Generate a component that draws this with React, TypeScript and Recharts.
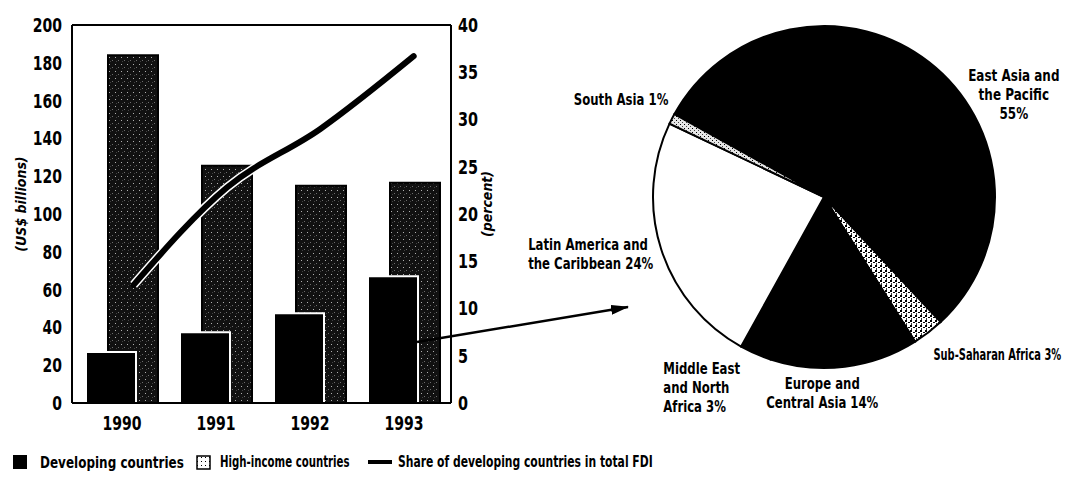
import { ComposedChart, Bar, Line, XAxis, YAxis, ReferenceLine, PieChart, Pie, Cell } from 'recharts';

// FDI flows, US$ billions, and developing-country share of the total (percent)
const years = ['1990', '1991', '1992', '1993'];
const developing = [27, 37.5, 47.5, 67];
const highIncome = [184, 125.5, 115, 116.5];
const sharePct = [12.5, 22.8, 29, 36.7];

// regional split of FDI to developing countries, 1993 (percent)
const regions = [
  'East Asia and the Pacific',
  'Sub-Saharan Africa',
  'Europe and Central Asia',
  'Middle East and North Africa',
  'Latin America and the Caribbean',
  'South Asia',
];
const regionShares = [55, 3, 14, 3, 24, 1];
const regionLabelLines = [
  ['East Asia and', 'the Pacific', ''],
  ['Sub-Saharan Africa'],
  ['Europe and', 'Central Asia'],
  ['Middle East', 'and North', 'Africa'],
  ['Latin America and', 'the Caribbean'],
  ['South Asia'],
];

const leftTicks = [0, 20, 40, 60, 80, 100, 120, 140, 160, 180, 200];
const rightTicks = [0, 5, 10, 15, 20, 25, 30, 35, 40];

const flows = years.map((year, i) => ({
  year,
  slot: i,
  developing: developing[i],
  highIncome: highIncome[i],
  share: sharePct[i],
}));

const regionData = regions.map((name, i) => ({ name, value: regionShares[i] }));

const FONT = "'DejaVu Sans', 'Liberation Sans', sans-serif";
const sliceFills = ['#000', 'url(#ssaSpeckle)', '#000', '#000', '#fff', 'url(#saSpeckle)'];

// where each region label sits, in units of the pie radius from its centre
const labelPlacement = [
  { fx: 1.11, fy: -0.71, anchor: 'middle', squeeze: 0.8 },
  { fx: 0.64, fy: 0.92, anchor: 'start', squeeze: 0.66 },
  { fx: -0.01, fy: 1.09, anchor: 'middle', squeeze: 0.78 },
  { fx: -0.94, fy: 1.0, anchor: 'start', squeeze: 0.78 },
  { fx: -1.73, fy: 0.28, anchor: 'start', squeeze: 0.78 },
  { fx: -0.91, fy: -0.57, anchor: 'end', squeeze: 0.78 },
];

// bold text squeezed horizontally to get the narrow display face
const Squeezed = ({ x, y, squeeze, size, anchor, children }: any) => (
  <g transform={`translate(${x},${y})`}>
    <text
      transform={`scale(${squeeze},1)`}
      x={0}
      y={0}
      textAnchor={anchor}
      dominantBaseline="central"
      fontFamily={FONT}
      fontWeight={700}
      fontSize={size}
      fill="#000"
    >
      {children}
    </text>
  </g>
);

const AxisTick = (props: any) => {
  const { x, y, payload, textAnchor, squeeze, size, shiftY = 0 } = props;
  return (
    <Squeezed x={x} y={y + shiftY} squeeze={squeeze} size={size} anchor={textAnchor}>
      {payload.value}
    </Squeezed>
  );
};

const AxisTitle = (props: any) => {
  const { viewBox, text, shift } = props;
  const x = viewBox.x + shift;
  const y = viewBox.y + viewBox.height / 2 - 10;
  return (
    <g transform={`translate(${x},${y}) rotate(-90)`}>
      <text
        transform="scale(0.9,1)"
        textAnchor="middle"
        dominantBaseline="central"
        fontFamily={FONT}
        fontWeight={700}
        fontStyle="italic"
        fontSize={14}
        fill="#000"
      >
        {text}
      </text>
    </g>
  );
};

const renderRegionLabel = (props: any) => {
  const { cx, cy, outerRadius, index, value } = props;
  const p = labelPlacement[index];
  const lines = [...regionLabelLines[index]];
  const last = lines.length - 1;
  lines[last] = (lines[last] ? lines[last] + ' ' : '') + value + '%';
  const x = cx + p.fx * outerRadius;
  const y0 = cy + p.fy * outerRadius;
  return (
    <g key={`lbl-${index}`} transform={`translate(${x},${y0})`}>
      <text
        transform={`scale(${p.squeeze},1)`}
        textAnchor={p.anchor}
        dominantBaseline="central"
        fontFamily={FONT}
        fontWeight={700}
        fontSize={15}
        fill="#000"
      >
        {lines.map((line, i) => (
          <tspan key={i} x={0} y={i * 19}>
            {line}
          </tspan>
        ))}
      </text>
    </g>
  );
};

export default function App() {
  return (
    <div style={{ position: 'absolute', left: 0, top: 0, width: 1068, height: 489, background: '#fff' }}>
      <div style={{ position: 'absolute', left: 0, top: 0 }}>
        <ComposedChart
          width={520}
          height={440}
          data={flows}
          margin={{ top: 25, right: 0, bottom: 7, left: 0 }}
          barGap={-72}
        >
          <defs>
            <pattern id="hiStipple" width="6" height="7" patternUnits="userSpaceOnUse">
              <rect width="6" height="7" fill="#111" />
              <rect x="1" y="1" width="1" height="1" fill="#b0b0b0" />
              <rect x="4" y="4" width="1" height="1" fill="#6e6e6e" />
              <rect x="2" y="5" width="1" height="1" fill="#404040" />
            </pattern>
          </defs>
          <XAxis
            xAxisId="cat"
            dataKey="year"
            height={30}
            padding={{ left: 3, right: 0 }}
            tickLine={false}
            tickSize={0}
            tickMargin={10}
            axisLine={{ stroke: '#000', strokeWidth: 2 }}
            tick={<AxisTick squeeze={0.74} size={19} shiftY={10} />}
          />
          <XAxis xAxisId="pos" type="number" dataKey="slot" domain={[-0.66, 3.4]} allowDataOverflow hide />
          <YAxis
            yAxisId="left"
            width={72}
            domain={[0, 200]}
            ticks={leftTicks}
            interval={0}
            tickLine={false}
            tickSize={0}
            tickMargin={10}
            axisLine={{ stroke: '#000', strokeWidth: 2 }}
            tick={<AxisTick squeeze={0.7} size={20} />}
            label={<AxisTitle text="(US$ billions)" shift={21} />}
          />
          <YAxis
            yAxisId="right"
            orientation="right"
            width={69}
            domain={[0, 40]}
            ticks={rightTicks}
            interval={0}
            tickLine={false}
            tickSize={0}
            tickMargin={7}
            axisLine={{ stroke: '#000', strokeWidth: 2 }}
            tick={<AxisTick squeeze={0.72} size={20} />}
            label={<AxisTitle text="(percent)" shift={36} />}
          />
          <ReferenceLine xAxisId="cat" yAxisId="left" y={200} stroke="#000" strokeWidth={2} />
          <Bar
            xAxisId="cat"
            yAxisId="left"
            dataKey="highIncome"
            name="High-income countries"
            barSize={50}
            fill="url(#hiStipple)"
            stroke="#000"
            strokeWidth={2}
            isAnimationActive={false}
          />
          <Bar
            xAxisId="cat"
            yAxisId="left"
            dataKey="developing"
            name="Developing countries"
            barSize={50}
            fill="#000"
            stroke="#fff"
            strokeWidth={2}
            isAnimationActive={false}
          />
          <Line
            xAxisId="pos"
            yAxisId="right"
            dataKey="share"
            type="monotone"
            stroke="#fff"
            strokeWidth={9}
            dot={false}
            activeDot={false}
            legendType="none"
            isAnimationActive={false}
          />
          <Line
            xAxisId="pos"
            yAxisId="right"
            dataKey="share"
            name="Share of developing countries in total FDI"
            type="monotone"
            stroke="#000"
            strokeWidth={6}
            strokeLinecap="round"
            dot={false}
            activeDot={false}
            isAnimationActive={false}
          />
        </ComposedChart>
      </div>

      <div style={{ position: 'absolute', left: 500, top: 0 }}>
        <PieChart width={568} height={440} margin={{ top: 0, right: 0, bottom: 0, left: 0 }}>
          <defs>
            <pattern id="ssaSpeckle" width="5" height="5" patternUnits="userSpaceOnUse">
              <rect width="5" height="5" fill="#fff" />
              <rect x="0" y="0" width="2" height="2" fill="#000" />
              <rect x="3" y="2" width="2" height="1" fill="#000" />
              <rect x="1" y="3" width="1" height="2" fill="#333" />
            </pattern>
            <pattern id="saSpeckle" width="4" height="4" patternUnits="userSpaceOnUse">
              <rect width="4" height="4" fill="#e6e6e6" />
              <rect x="0" y="0" width="1" height="1" fill="#000" />
              <rect x="2" y="2" width="1" height="1" fill="#444" />
            </pattern>
          </defs>
          <Pie
            data={regionData}
            dataKey="value"
            nameKey="name"
            cx={324}
            cy={197}
            outerRadius={171}
            startAngle={151}
            endAngle={-209}
            stroke="#000"
            strokeWidth={2}
            labelLine={false}
            label={renderRegionLabel}
            isAnimationActive={false}
          >
            {regionData.map((entry, index) => (
              <Cell key={`cell-${index}`} fill={sliceFills[index]} />
            ))}
          </Pie>
        </PieChart>
      </div>

      {/* callout arrow and legend */}
      <svg width={1068} height={489} style={{ position: 'absolute', left: 0, top: 0, pointerEvents: 'none' }}>
        <defs>
          <marker id="arrowHead" viewBox="0 0 18 10" markerUnits="userSpaceOnUse" markerWidth={18} markerHeight={10} refX={17} refY={5} orient="auto">
            <path d="M0,0 L18,5 L0,10 Z" fill="#000" />
          </marker>
          <pattern id="legendStipple" width="4" height="4" patternUnits="userSpaceOnUse">
            <rect width="4" height="4" fill="#fff" />
            <rect x="1" y="1" width="1" height="1" fill="#000" />
          </pattern>
        </defs>
        <line x1={417} y1={342} x2={628} y2={307} stroke="#000" strokeWidth={2.5} markerEnd="url(#arrowHead)" />

        <rect x={13} y={455} width={14} height={14} fill="#000" />
        <Squeezed x={40} y={462} squeeze={0.8} size={15} anchor="start">Developing countries</Squeezed>
        <rect x={197} y={456} width={13} height={13} fill="url(#legendStipple)" stroke="#000" strokeWidth={1.5} />
        <Squeezed x={220} y={462} squeeze={0.68} size={15} anchor="start">High-income countries</Squeezed>
        <line x1={368} y1={462} x2={392} y2={462} stroke="#000" strokeWidth={4} />
        <Squeezed x={398} y={462} squeeze={0.72} size={15} anchor="start">Share of developing countries in total FDI</Squeezed>
      </svg>
    </div>
  );
}
